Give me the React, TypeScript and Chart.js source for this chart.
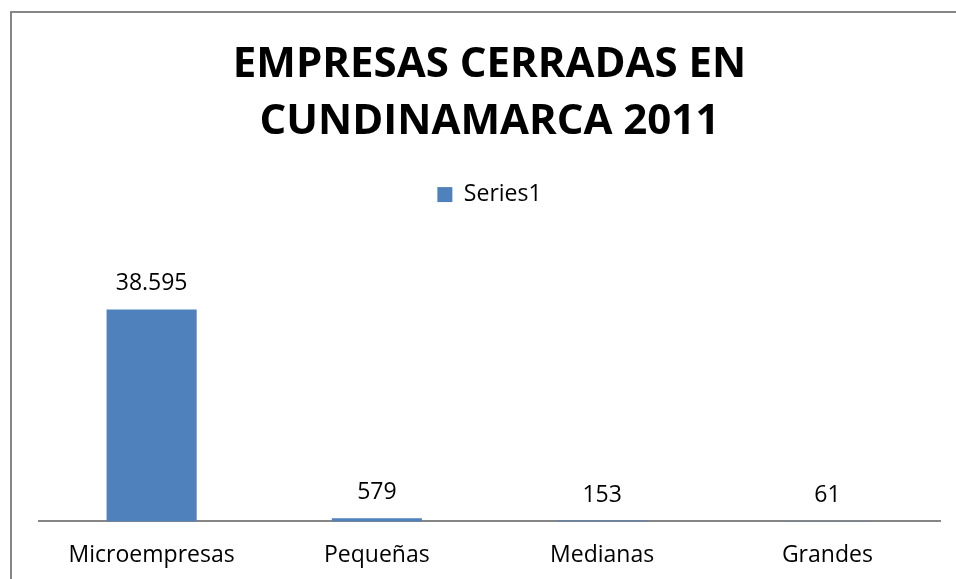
import React, { useEffect, useRef } from "react";
import { Chart, registerables } from "chart.js";

Chart.register(...registerables);

const categories = ["Microempresas", "Pequeñas", "Medianas", "Grandes"];
const values = [38595, 579, 153, 61];
const seriesName = "Series1";
const titleLines = ["EMPRESAS CERRADAS EN", "CUNDINAMARCA 2011"];
const yMax = 55600;

function fmt(n: number): string {
  return String(n).replace(/\B(?=(\d{3})+(?!\d))/g, ".");
}

const valueLabels = {
  id: "valueLabels",
  afterDatasetsDraw(chart: any) {
    const ctx = chart.ctx;
    const meta = chart.getDatasetMeta(0);
    ctx.save();
    ctx.font = "23px 'Open Sans'";
    ctx.fillStyle = "#000";
    ctx.textAlign = "center";
    ctx.textBaseline = "alphabetic";
    meta.data.forEach((bar: any, i: number) => {
      const v = chart.data.datasets[0].data[i];
      ctx.fillText(fmt(v), bar.x, bar.y - 19);
    });
    ctx.restore();
  },
};

export default function App() {
  const ref = useRef<HTMLCanvasElement>(null);
  useEffect(() => {
    if (!ref.current) return;
    const chart = new Chart(ref.current, {
      type: "bar",
      data: {
        labels: categories,
        datasets: [
          {
            label: seriesName,
            data: values,
            backgroundColor: "#4F81BD",
            borderWidth: 0,
            categoryPercentage: 0.8,
            barPercentage: 0.5,
          },
        ],
      },
      options: {
        animation: false,
        responsive: false,
        maintainAspectRatio: false,
        layout: { padding: { left: 39, right: 16, top: 0, bottom: -2 } },
        plugins: {
          tooltip: { enabled: false },
          title: {
            display: true,
            text: titleLines,
            color: "#000",
            font: { family: "'Open Sans'", size: 42, weight: "bold", lineHeight: 1.37 },
            padding: { top: 36, bottom: 22 },
          },
          legend: {
            display: true,
            position: "top",
            labels: {
              color: "#000",
              font: { family: "'Open Sans'", size: 23 },
              boxWidth: 15,
              boxHeight: 15,
              padding: 10,
            },
          },
        },
        scales: {
          x: {
            grid: { display: false },
            border: { display: true, color: "#868686", width: 2 },
            ticks: { color: "#000", font: { family: "'Open Sans'", size: 23 }, padding: 12 },
          },
          y: {
            display: false,
            min: 0,
            max: yMax,
          },
        },
      },
      plugins: [valueLabels],
    });
    return () => chart.destroy();
  }, []);
  return (
    <div style={{ position: "absolute", left: 0, top: 0, width: 956, height: 579, overflow: "hidden", background: "#fff" }}>
      <div style={{ position: "absolute", left: 10, top: 11, width: 1000, height: 1000, border: "2px solid #868686" }} />
      <canvas ref={ref} width={956} height={579} style={{ position: "absolute", left: 0, top: 0, width: 956, height: 579 }} />
    </div>
  );
}
